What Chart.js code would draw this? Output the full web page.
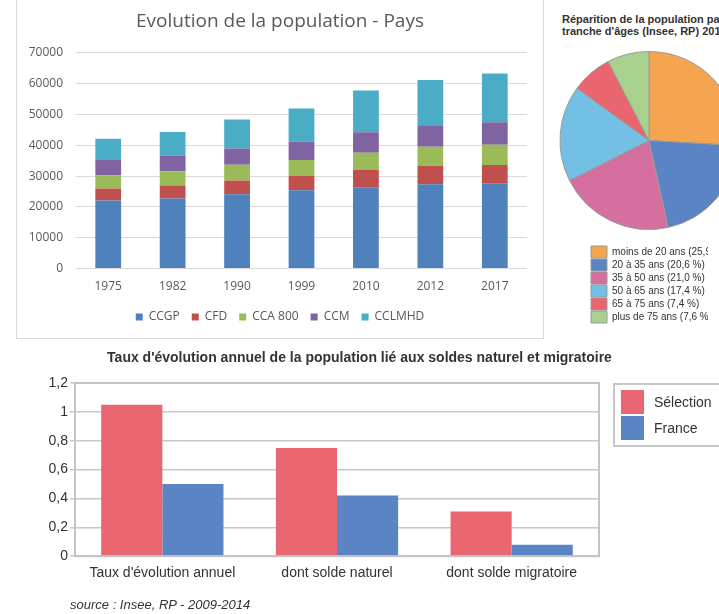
<!DOCTYPE html>
<html lang="fr">
<head>
<meta charset="utf-8">
<title>Population</title>
<script src="https://cdn.jsdelivr.net/npm/chart.js@4.4.0/dist/chart.umd.min.js"></script>
<style>
  html, body { margin: 0; padding: 0; background: #fff; }
  body { width: 719px; height: 614px; overflow: hidden; position: relative; font-family: "Liberation Sans", Arial, sans-serif; color: #333; }
  canvas, .bloc { position: absolute; }
  #panneau { left: 16px; top: -1px; width: 526px; height: 338px; border: 1px solid #d9d9d9; }
  #panneau canvas { left: 0; top: 0; }
  #ages { left: 545px; top: 0; }
  #titreAges { left: 562px; top: 13px; font-size: 11px; line-height: 12px; font-weight: bold; white-space: nowrap; }
  #soldes { left: 0; top: 340px; }
  #legendeSoldes { left: 613px; top: 383px; width: 120px; height: 60px; border: 2px solid #c8c8c8; z-index: 2; }
  .item { position: absolute; left: 6px; height: 24px; font-size: 14px; line-height: 24px; white-space: nowrap; }
  .item span { display: inline-block; width: 23px; height: 24px; vertical-align: top; margin-right: 10px; }
  #source { left: 70px; top: 597px; font-size: 13px; font-style: italic; white-space: nowrap; }
</style>
</head>
<body>
<div id="panneau" class="bloc"><canvas id="pays" width="526" height="338"></canvas></div>
<div id="titreAges" class="bloc">Réparition de la population par<br>tranche d'âges (Insee, RP) 2014</div>
<canvas id="ages" width="200" height="333"></canvas>
<canvas id="soldes" width="719" height="274"></canvas>
<div id="legendeSoldes" class="bloc"></div>
<div id="source" class="bloc">source : Insee, RP - 2009-2014</div>

<script>
// evolution de la population par interco
const annees = ['1975', '1982', '1990', '1999', '2010', '2012', '2017'];
const ccgp   = [22100, 22700, 24100, 25400, 26400, 27400, 27700];
const cfd    = [3900, 4250, 4500, 4600, 5550, 5900, 5900];
const cca800 = [4300, 4600, 5100, 5250, 5650, 6200, 6550];
const ccm    = [4900, 5100, 5250, 5900, 6650, 7000, 7300];
const cclmhd = [6900, 7650, 9400, 10800, 13500, 14700, 15800];
const ticksPays = [0, 10000, 20000, 30000, 40000, 50000, 60000, 70000];

// tranches d'ages
const tranches = ['moins de 20 ans (25,9 %)', '20 à 35 ans (20,6 %)', '35 à 50 ans (21,0 %)',
                  '50 à 65 ans (17,4 %)', '65 à 75 ans (7,4 %)', 'plus de 75 ans (7,6 %)'];
const partsAges = [25.9, 20.6, 21.0, 17.4, 7.4, 7.6];

// soldes naturel et migratoire
const soldes = ["Taux d'évolution annuel", 'dont solde naturel', 'dont solde migratoire'];
const selection = [1.05, 0.75, 0.31];
const france = [0.5, 0.42, 0.08];
const ticksSoldes = [0, 0.2, 0.4, 0.6, 0.8, 1, 1.2];

const gris = '#595959';
const policeOffice = { family: 'Open Sans', size: 12 };

function chartPays() {
  const ctx = document.getElementById('pays').getContext('2d');
  return new Chart(ctx, {
    type: 'bar',
    data: {
      labels: annees,
      datasets: [
        { label: 'CCGP', data: ccgp, backgroundColor: '#4f81bd' },
        { label: 'CFD', data: cfd, backgroundColor: '#c0504d' },
        { label: 'CCA 800', data: cca800, backgroundColor: '#9bbb59' },
        { label: 'CCM', data: ccm, backgroundColor: '#8064a2' },
        { label: 'CCLMHD', data: cclmhd, backgroundColor: '#4bacc6' }
      ]
    },
    options: {
      responsive: false,
      animation: false,
      layout: { padding: { left: 0, right: 0, top: 0, bottom: 5 } },
      datasets: { bar: { barPercentage: 0.4, categoryPercentage: 1 } },
      plugins: {
        title: {
          display: true,
          text: 'Evolution de la population - Pays',
          color: gris,
          font: { family: 'Open Sans', size: 19, weight: 'normal' },
          padding: { top: 10, bottom: 20 }
        },
        legend: {
          position: 'bottom',
          labels: { boxWidth: 7, boxHeight: 7, padding: 12, color: gris, font: policeOffice }
        },
        tooltip: { enabled: false }
      },
      scales: {
        x: {
          stacked: true,
          grid: { display: false, drawTicks: false },
          border: { display: false },
          ticks: { padding: 11, color: gris, font: policeOffice },
          afterFit: (s) => { s.height -= 6; }
        },
        y: {
          stacked: true,
          min: 0,
          max: 70000,
          afterBuildTicks: (s) => { s.ticks = ticksPays.map(v => ({ value: v })); },
          grid: { color: '#d9d9d9', drawTicks: false },
          border: { display: false },
          ticks: { padding: 13, color: gris, font: policeOffice, callback: (v) => String(v) },
          afterFit: (s) => { s.width = 59; }
        },
        marge: {
          position: 'right',
          grid: { display: false },
          border: { display: false },
          ticks: { display: false },
          afterFit: (s) => { s.width = 16; }
        }
      }
    }
  });
}

function chartAges() {
  const ctx = document.getElementById('ages').getContext('2d');
  return new Chart(ctx, {
    type: 'pie',
    data: {
      labels: tranches,
      datasets: [{
        data: partsAges,
        backgroundColor: ['#f5a54f', '#5b84c4', '#d46fa0', '#74bfe4', '#e9656f', '#a8d18e'],
        borderColor: '#9a9a9a',
        borderWidth: 1,
        radius: 89,
        clip: false
      }]
    },
    options: {
      responsive: false,
      animation: false,
      layout: { padding: { left: 45, right: 37, top: 36, bottom: 0 } },
      plugins: {
        legend: {
          position: 'bottom',
          align: 'start',
          labels: { boxWidth: 16, boxHeight: 12, padding: 1, color: '#333',
                    font: { family: 'Liberation Sans', size: 10 } }
        },
        tooltip: { enabled: false }
      }
    }
  });
}

// cadre gris autour de la zone de trace
const cadre = {
  id: 'cadre',
  afterDraw(chart) {
    const { ctx, chartArea: a } = chart;
    ctx.save();
    ctx.strokeStyle = '#c4c4c4';
    ctx.lineWidth = 2;
    ctx.strokeRect(a.left, a.top, a.right - a.left, a.bottom - a.top);
    ctx.restore();
  }
};

function chartSoldes() {
  const ctx = document.getElementById('soldes').getContext('2d');
  const police = { family: 'Liberation Sans', size: 14 };
  return new Chart(ctx, {
    type: 'bar',
    data: {
      labels: soldes,
      datasets: [
        { label: 'Sélection', data: selection, backgroundColor: '#ea6670' },
        { label: 'France', data: france, backgroundColor: '#5b84c4' }
      ]
    },
    options: {
      responsive: false,
      animation: false,
      layout: { padding: { left: 0, right: 0, top: 0, bottom: 23 } },
      datasets: { bar: { barPercentage: 1, categoryPercentage: 0.7 } },
      plugins: {
        legend: { display: false },
        title: {
          display: true,
          text: "Taux d'évolution annuel de la population lié aux soldes naturel et migratoire",
          color: '#333',
          font: { family: 'Liberation Sans', size: 14, weight: 'bold' },
          padding: { top: 9.6, bottom: 16.6 }
        },
        tooltip: { enabled: false }
      },
      scales: {
        x: {
          grid: { display: false, drawTicks: false },
          border: { display: false },
          ticks: { padding: 9, color: '#333', font: police }
        },
        y: {
          min: 0,
          max: 1.2,
          afterBuildTicks: (s) => { s.ticks = ticksSoldes.map(v => ({ value: v })); },
          grid: { color: '#c8c8c8', lineWidth: 1.5, tickLength: 5 },
          border: { display: false },
          ticks: {
            padding: 2, color: '#333', font: police,
            callback: (v) => String(Math.round(v * 10) / 10).replace('.', ',')
          },
          afterFit: (s) => { s.width = 75; }
        },
        legende: {
          position: 'right',
          grid: { display: false },
          border: { display: false },
          ticks: { display: false },
          afterFit: (s) => { s.width = 120; }
        }
      }
    },
    plugins: [cadre]
  });
}

function legendeSoldes(chart) {
  const boite = document.getElementById('legendeSoldes');
  chart.data.datasets.forEach((ds, i) => {
    boite.innerHTML += `<div class="item" style="top:${5 + i * 26}px">` +
      `<span style="background:${ds.backgroundColor}"></span>${ds.label}</div>`;
  });
}

chartPays();
chartAges();
legendeSoldes(chartSoldes());
</script>
</body>
</html>
